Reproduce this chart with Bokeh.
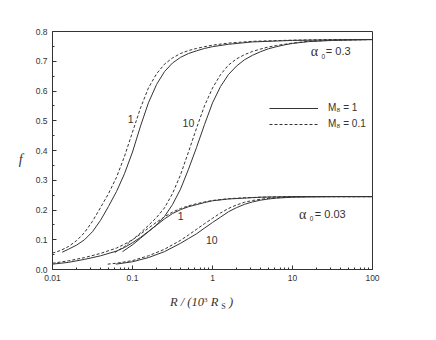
from bokeh.plotting import figure
from bokeh.models import Range1d, FixedTicker, Label, Legend, LegendItem, Div
from bokeh.layouts import column
from bokeh.embed import file_html
from bokeh.resources import INLINE

# ---------------- data ----------------
# alpha0 = 0.3, curve "1"
a03_c1_m1_x = [0.0132, 0.0158, 0.02, 0.0251, 0.0316, 0.0398, 0.0501, 0.0631, 0.0794, 0.1, 0.126, 0.158,
               0.2, 0.251, 0.316, 0.398, 0.501, 0.631, 0.794, 1, 1.58, 3.16, 10, 31.6, 100]
a03_c1_m1_y = [0.058, 0.068, 0.082, 0.100, 0.127, 0.165, 0.212, 0.262, 0.322, 0.395, 0.482, 0.560,
               0.622, 0.665, 0.694, 0.713, 0.726, 0.735, 0.743, 0.749, 0.757, 0.765, 0.770, 0.772, 0.773]
a03_c1_m01_x = [0.01, 0.0126, 0.0158, 0.02, 0.0251, 0.0316, 0.0398, 0.0501, 0.0631, 0.0794, 0.1, 0.126,
                0.158, 0.2, 0.251, 0.316, 0.398, 0.501, 0.631, 0.794, 1, 1.58, 3.16, 10, 31.6, 100]
a03_c1_m01_y = [0.055, 0.064, 0.077, 0.097, 0.124, 0.162, 0.208, 0.255, 0.310, 0.380, 0.462, 0.543,
                0.610, 0.658, 0.690, 0.711, 0.726, 0.736, 0.743, 0.749, 0.754, 0.761, 0.767, 0.771, 0.773, 0.773]
# alpha0 = 0.3, curve "10"
a03_c10_m1_x = [0.075, 0.1, 0.126, 0.158, 0.2, 0.251, 0.316, 0.398, 0.501, 0.631, 0.794, 1, 1.26, 1.58,
                2.0, 2.51, 3.16, 3.98, 5.01, 6.31, 7.94, 10, 15.8, 31.6, 100]
a03_c10_m1_y = [0.060, 0.083, 0.105, 0.127, 0.150, 0.178, 0.218, 0.270, 0.337, 0.410, 0.487, 0.560, 0.615,
                0.655, 0.684, 0.705, 0.720, 0.732, 0.742, 0.749, 0.755, 0.760, 0.766, 0.770, 0.773]
a03_c10_m01_x = [0.06, 0.0794, 0.1, 0.126, 0.158, 0.2, 0.251, 0.316, 0.398, 0.501, 0.631, 0.794, 1, 1.26,
                 1.58, 2.0, 2.51, 3.16, 3.98, 5.01, 6.31, 7.94, 10, 15.8, 31.6, 100]
a03_c10_m01_y = [0.057, 0.077, 0.100, 0.123, 0.148, 0.175, 0.207, 0.255, 0.318, 0.395, 0.475, 0.550, 0.610,
                 0.655, 0.687, 0.708, 0.722, 0.733, 0.741, 0.748, 0.753, 0.757, 0.761, 0.767, 0.771, 0.773]
# alpha0 = 0.03, curve "1"
a003_c1_x = [0.01, 0.0158, 0.0251, 0.0398, 0.0631, 0.0794, 0.1, 0.126, 0.158, 0.2, 0.251, 0.316, 0.398,
             0.501, 0.631, 0.794, 1, 1.58, 2.51, 3.98, 6.31, 10, 100]
a003_c1_m1_y = [0.018, 0.024, 0.034, 0.046, 0.062, 0.074, 0.090, 0.108, 0.128, 0.149, 0.170, 0.188, 0.201,
                0.211, 0.218, 0.225, 0.231, 0.237, 0.240, 0.243, 0.244, 0.245, 0.245]
a003_c1_m01_y = [0.021, 0.029, 0.040, 0.054, 0.072, 0.085, 0.100, 0.119, 0.139, 0.159, 0.177, 0.193, 0.205,
                 0.214, 0.221, 0.227, 0.232, 0.238, 0.241, 0.243, 0.244, 0.245, 0.245]
# alpha0 = 0.03, curve "10"
a003_c10_m1_x = [0.062, 0.1, 0.158, 0.251, 0.398, 0.501, 0.631, 0.794, 1, 1.26, 1.58, 2.0, 2.51, 3.16,
                 3.98, 5.01, 6.31, 10, 15.8, 31.6, 100]
a003_c10_m1_y = [0.018, 0.026, 0.040, 0.060, 0.088, 0.104, 0.120, 0.139, 0.158, 0.176, 0.194, 0.208, 0.219,
                 0.227, 0.233, 0.237, 0.240, 0.243, 0.244, 0.245, 0.245]
a003_c10_m01_x = [0.049, 0.0631, 0.1, 0.158, 0.251, 0.398, 0.501, 0.631, 0.794, 1, 1.26, 1.58, 2.0, 2.51,
                  3.16, 3.98, 5.01, 6.31, 10, 15.8, 100]
a003_c10_m01_y = [0.018, 0.021, 0.030, 0.046, 0.068, 0.098, 0.116, 0.135, 0.154, 0.172, 0.190, 0.205, 0.217,
                  0.226, 0.232, 0.236, 0.239, 0.241, 0.244, 0.245, 0.245]

x_tick_values = [0.01, 0.1, 1, 10, 100]
x_tick_labels = ["0.01", "0.1", "1", "10", "100"]
y_tick_values = [0.0, 0.1, 0.2, 0.3, 0.4, 0.5, 0.6, 0.7, 0.8]
y_tick_labels = ["0.0", "0.1", "0.2", "0.3", "0.4", "0.5", "0.6", "0.7", "0.8"]

legend_labels = ["M\u2088 = 1", "M\u2088 = 0.1"]

# ---------------- figure ----------------
INK = "#333333"
SANS = "Liberation Sans"
SERIF = "Liberation Serif"

p = figure(frame_width=320, frame_height=238, x_axis_type="log",
           x_range=Range1d(0.01, 100), y_range=Range1d(0, 0.8),
           output_backend="svg", toolbar_location=None,
           min_border_left=52, min_border_right=48, min_border_top=31, min_border_bottom=20)
p.xgrid.visible = False
p.ygrid.visible = False
p.outline_line_color = INK
p.outline_line_width = 1
p.background_fill_color = "white"
p.border_fill_color = "white"

x_minor = [m * d for d in (0.01, 0.1, 1, 10) for m in range(2, 10)]
y_minor = [0.05 + 0.1 * k for k in range(8)]
p.xaxis.ticker = FixedTicker(ticks=x_tick_values, minor_ticks=x_minor)
p.yaxis.ticker = FixedTicker(ticks=y_tick_values, minor_ticks=y_minor)
p.xaxis.major_label_overrides = dict(zip(x_tick_values, x_tick_labels))
p.yaxis.major_label_overrides = dict(zip(y_tick_values, y_tick_labels))
for ax in (p.xaxis[0], p.yaxis[0]):
    ax.axis_line_color = INK
    ax.major_tick_line_color = INK
    ax.minor_tick_line_color = INK
    ax.major_tick_in = 4
    ax.major_tick_out = 0
    ax.minor_tick_in = 2
    ax.minor_tick_out = 0
    ax.major_label_text_font = SANS
    ax.major_label_text_font_size = "8.5px"
    ax.major_label_text_color = INK
    ax.major_label_standoff = 5

# y title as the axis' own label (empty first line pushes the glyph a little lower)
p.yaxis.axis_label = "\nf"
p.yaxis.axis_label_orientation = "horizontal"
p.yaxis.axis_label_text_font = SERIF
p.yaxis.axis_label_text_font_style = "italic"
p.yaxis.axis_label_text_font_size = "14px"
p.yaxis.axis_label_text_color = INK
p.yaxis.axis_label_standoff = 10

LW = 1.0
DASH = "3 2"
rs1 = p.line(a03_c1_m1_x, a03_c1_m1_y, line_color=INK, line_width=LW)
rd1 = p.line(a03_c1_m01_x, a03_c1_m01_y, line_color=INK, line_width=LW, line_dash=DASH)
p.line(a03_c10_m1_x, a03_c10_m1_y, line_color=INK, line_width=LW)
p.line(a03_c10_m01_x, a03_c10_m01_y, line_color=INK, line_width=LW, line_dash=DASH)
p.line(a003_c1_x, a003_c1_m1_y, line_color=INK, line_width=LW)
p.line(a003_c1_x, a003_c1_m01_y, line_color=INK, line_width=LW, line_dash=DASH)
p.line(a003_c10_m1_x, a003_c10_m1_y, line_color=INK, line_width=LW)
p.line(a003_c10_m01_x, a003_c10_m01_y, line_color=INK, line_width=LW, line_dash=DASH)

legend = Legend(items=[LegendItem(label=legend_labels[0], renderers=[rs1]),
                       LegendItem(label=legend_labels[1], renderers=[rd1])],
                location=(217, 139.5), padding=0, margin=0, spacing=4,
                glyph_width=49, glyph_height=12, label_height=12, label_standoff=10,
                label_text_font=SANS, label_text_font_size="10px",
                label_text_color=INK, border_line_alpha=0, background_fill_alpha=0)
p.add_layout(legend)


def lab(x, y, text, size, font=SANS, style="normal", align="center"):
    p.add_layout(Label(x=x, y=y, text=text,
                       text_font=font, text_font_size=size, text_font_style=style,
                       text_color=INK, text_align=align, text_baseline="middle"))

# curve labels
lab(0.095, 0.507, "1", "10.5px")
lab(0.50, 0.493, "10", "10.5px")
lab(0.40, 0.180, "1", "10.5px")
lab(0.98, 0.099, "10", "10.5px")

# alpha annotations
lab(16.9, 0.733, "\u03b1", "14px", font=SERIF, align="left")
lab(23.0, 0.717, "0", "6.5px", align="left")
lab(26.1, 0.733, "= 0.3", "11px", align="left")
lab(12.1, 0.186, "\u03b1", "14px", font=SERIF, align="left")
lab(16.4, 0.172, "0", "6.5px", align="left")
lab(19.0, 0.186, "= 0.03", "11px", align="left")

# x title below the figure, as real HTML text with sub/superscripts
x_title = Div(
    text=('<div style="margin-left:170px;margin-top:3px;white-space:nowrap;'
          'font-family:\'Liberation Serif\';font-style:italic;font-size:12.5px;'
          'line-height:16px;color:#333333">'
          'R / (10<sup style="font-size:7px;font-style:normal;vertical-align:4px">3</sup>'
          ' R<sub style="font-size:8px;font-style:normal;vertical-align:-3px;margin-left:3px">S</sub>'
          ' )</div>'),
    width=420, height=30, margin=(0, 0, 0, 0))

layout = column(p, x_title, spacing=0)

open("out.html", "w").write(file_html(layout, INLINE))
